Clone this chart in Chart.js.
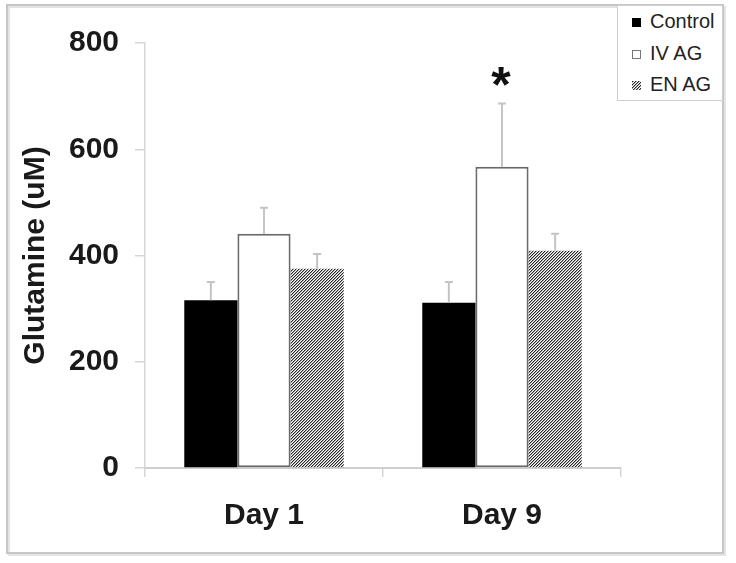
<!DOCTYPE html>
<html>
<head>
<meta charset="utf-8">
<script src="https://cdn.jsdelivr.net/npm/chart.js@4.4.1/dist/chart.umd.min.js"></script>
<style>
  html, body { margin: 0; padding: 0; background: #fff; }
  #wrap { position: relative; width: 736px; height: 563px; }
  #legend {
    position: absolute; left: 617px; top: 5px; width: 104px; height: 94px;
    border: 1px solid #cfcfcf; background: #fff;
    font-family: "Liberation Sans", Arial, sans-serif; font-size: 20px; color: #222;
  }
  .lg-item { position: absolute; left: 14px; height: 22px; line-height: 22px; white-space: nowrap; }
  .lg-box { display: inline-block; width: 9px; height: 9px; box-sizing: border-box; margin-right: 9px; vertical-align: 1px; }
</style>
</head>
<body>
<div id="wrap">
  <canvas id="chart" width="736" height="563"></canvas>
  <div id="legend"></div>
</div>
<script>
'use strict';

// ── Daten ──
const categories = ['Day 1', 'Day 9'];
const seriesNames = ['Control', 'IV AG', 'EN AG'];
const controlVals = [316, 311];
const ivVals      = [441, 567];
const enVals      = [375, 409];
const controlErr  = [34, 39];
const ivErr       = [49, 119];
const enErr       = [28, 32];
const yTicks      = [0, 200, 400, 600, 800];
const starMarks   = [{ dataset: 1, index: 1, text: '*' }];

const $ = id => document.getElementById(id);
const FONT = '"Liberation Sans", Arial, sans-serif';

// ── Muster für EN AG ──
function makePatternCanvas() {
  const c = document.createElement('canvas');
  c.width = 3; c.height = 3;
  const g = c.getContext('2d');
  g.fillStyle = '#ffffff';
  g.fillRect(0, 0, 3, 3);
  for (let x = 0; x < 3; x++) {
    for (let y = 0; y < 3; y++) {
      const k = (x + y) % 3;
      if (k === 0) { g.fillStyle = '#262626'; g.fillRect(x, y, 1, 1); }
      else if (k === 1) { g.fillStyle = '#a8a8a8'; g.fillRect(x, y, 1, 1); }
    }
  }
  return c;
}
const patCanvas = makePatternCanvas();
const enPattern = patCanvas.getContext('2d').createPattern(patCanvas, 'repeat');

const errs = [controlErr, ivErr, enErr];

// ── Fehlerbalken, Sternchen, Rahmen ──
const extras = {
  id: 'extras',
  beforeDraw(chart) {
    const ctx = chart.ctx;
    ctx.save();
    ctx.fillStyle = '#fff';
    ctx.fillRect(0, 0, chart.width, chart.height);
    ctx.strokeStyle = '#e4e4e4';
    ctx.lineWidth = 2;
    ctx.strokeRect(9, 7, 716, 548);
    ctx.strokeStyle = '#c6c6c6';
    ctx.strokeRect(7, 5, 716, 548);
    ctx.restore();
  },
  afterDatasetsDraw(chart) {
    const ctx = chart.ctx;
    const y = chart.scales.y;
    ctx.save();
    ctx.strokeStyle = '#c4c4c4';
    ctx.lineWidth = 2;
    chart.data.datasets.forEach((ds, di) => {
      chart.getDatasetMeta(di).data.forEach((bar, i) => {
        const top = y.getPixelForValue(ds.data[i] + errs[di][i]);
        ctx.beginPath();
        ctx.moveTo(bar.x, bar.y);
        ctx.lineTo(bar.x, top);
        ctx.moveTo(bar.x - 4, top);
        ctx.lineTo(bar.x + 4, top);
        ctx.stroke();
      });
    });
    ctx.fillStyle = '#111';
    ctx.font = 'bold 50px ' + FONT;
    ctx.textAlign = 'center';
    ctx.textBaseline = 'alphabetic';
    starMarks.forEach(s => {
      const bar = chart.getDatasetMeta(s.dataset).data[s.index];
      const v = chart.data.datasets[s.dataset].data[s.index] + errs[s.dataset][s.index];
      ctx.fillText(s.text, bar.x - 1, y.getPixelForValue(v) - 2);
    });
    ctx.restore();
  }
};

function init() {
  const datasets = [
    { label: seriesNames[0], data: controlVals, backgroundColor: '#000', borderWidth: 0 },
    { label: seriesNames[1], data: ivVals, backgroundColor: '#fff', borderColor: '#6a6a6a', borderWidth: 2, borderSkipped: false },
    { label: seriesNames[2], data: enVals, backgroundColor: enPattern, borderWidth: 0 },
  ];

  new Chart($('chart'), {
    type: 'bar',
    data: { labels: categories, datasets },
    options: {
      responsive: false,
      animation: false,
      devicePixelRatio: 1,
      categoryPercentage: 0.67,
      barPercentage: 1.0,
      layout: { padding: { left: 0, right: 115, top: 43, bottom: 0 } },
      plugins: { legend: { display: false }, tooltip: { enabled: false } },
      scales: {
        x: {
          afterFit: s => { s.height = 563 - 468; },
          border: { color: '#cfcfcf', width: 2 },
          grid: { display: true, drawOnChartArea: false, tickLength: 9, color: '#d6d6d6', lineWidth: 1.5, offset: true },
          ticks: { color: '#1a1a1a', padding: 21, font: { family: FONT, size: 30, weight: 'bold' } },
        },
        y: {
          min: 0, max: 800,
          afterFit: s => { s.width = 145; },
          afterBuildTicks: s => { s.ticks = yTicks.map(v => ({ value: v })); },
          border: { color: '#d6d6d6', width: 1.5 },
          grid: { display: true, drawOnChartArea: false, tickLength: 10, color: '#d6d6d6', lineWidth: 1.5 },
          ticks: { color: '#1a1a1a', padding: 16, font: { family: FONT, size: 30, weight: 'bold' } },
          title: {
            display: true, text: 'Glutamine (uM)', color: '#1a1a1a',
            padding: { top: 18, bottom: 0 },
            font: { family: FONT, size: 30, weight: 'bold' },
          },
        },
      },
    },
    plugins: [extras],
  });

  renderLegend();
}

// ── Legende ──
function renderLegend() {
  const patUrl = patCanvas.toDataURL();
  const styles = [
    'background:#000;',
    'background:#fff;border:1.5px solid #777;',
    `background-image:url(${patUrl});`,
  ];
  const tops = [4, 36, 67];
  $('legend').innerHTML = seriesNames.map((n, i) =>
    `<div class="lg-item" style="top:${tops[i]}px;"><span class="lg-box" style="${styles[i]}"></span>${n}</div>`
  ).join('');
}

init();
</script>
</body>
</html>
